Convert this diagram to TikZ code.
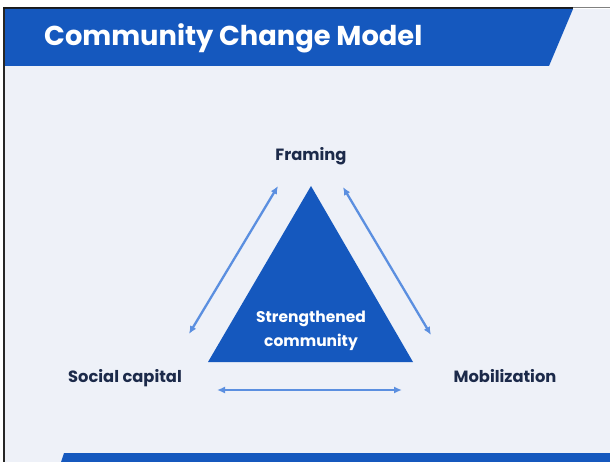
\documentclass[tikz,border=0pt]{standalone}
\usepackage{fontspec}
\setmainfont{Poppins}
\usetikzlibrary{arrows.meta}
\definecolor{hdr}{HTML}{1558BE}
\definecolor{bg}{HTML}{EEF1F8}
\definecolor{arr}{HTML}{5B8FE0}
\definecolor{navy}{HTML}{1C2A4A}
\tikzset{
  lbl/.style={font=\bfseries\fontsize{16.3}{18}\selectfont, text=navy, inner sep=0pt, anchor=base},
  link/.style={arr, line width=2.3pt, {Latex[length=8pt,width=7pt]}-{Latex[length=8pt,width=7pt]}}
}
\begin{document}
\begin{tikzpicture}[x=1pt,y=-1pt]
\useasboundingbox (0,0) rectangle (610,462);
\fill[white] (0,0) rectangle (610,462);
\fill[bg] (5,9) rectangle (610,462);
\fill[black!85] (3,7) rectangle (5,462);
\fill[black!90] (3,7) rectangle (573,9);
\fill[black!50] (573,7) rectangle (610,8.5);
\fill[hdr] (5,9) -- (573,9) -- (549,66) -- (5,66) -- cycle;
\fill[hdr] (64,453) -- (610,453) -- (610,462) -- (61,462) -- cycle;
\node[anchor=west, text=white, font=\bfseries\fontsize{27.3}{30}\selectfont, inner sep=0pt] (title) at (44,38) {Community Change Model};
\fill[hdr] (311,186) -- (413,362) -- (208,362) -- cycle;
\node[font=\bfseries\fontsize{15.5}{24}\selectfont, text=white, align=center, inner sep=0pt] (core) at (311,331) {Strengthened\\community};
\node[lbl] (framing) at (311,161) {Framing};
\node[lbl] (social) at (125,382) {Social capital};
\node[lbl] (mob) at (505,382) {Mobilization};
\coordinate (l1) at (189,334); \coordinate (l2) at (278,186);
\coordinate (r1) at (343,187); \coordinate (r2) at (431,335);
\coordinate (b1) at (217,390); \coordinate (b2) at (402,390);
\draw[link] (l1) -- (l2);
\draw[link] (r1) -- (r2);
\draw[link] (b1) -- (b2);
\end{tikzpicture}
\end{document}
